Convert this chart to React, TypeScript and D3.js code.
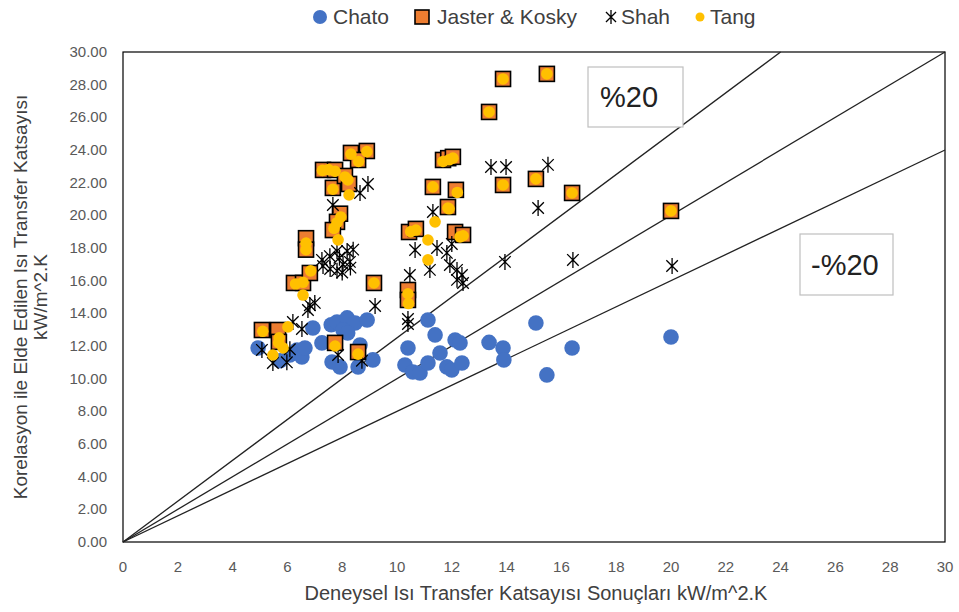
import * as d3 from "d3";

const chato: [number, number][] = [
  [4.93, 11.88], [5.73, 11.1], [6.09, 11.45], [6.35, 11.75], [6.53, 11.33], [6.64, 11.88],
  [6.93, 13.1], [7.26, 12.19], [7.6, 13.3], [7.63, 11.02], [7.92, 10.72], [7.81, 13.47],
  [8.18, 13.72], [8.47, 13.41], [8.03, 12.98], [8.2, 12.8], [8.91, 13.59], [8.65, 12.06],
  [8.58, 10.72], [9.12, 11.15],
  [10.4, 11.88], [10.29, 10.84], [10.58, 10.41], [10.84, 10.35], [11.13, 10.96],
  [11.57, 11.57], [11.82, 10.72], [12.0, 10.53], [12.37, 10.96], [11.13, 13.59],
  [11.39, 12.68], [12.12, 12.37], [12.3, 12.19], [13.36, 12.22],
  [13.87, 11.88], [13.9, 11.15], [15.07, 13.41], [16.39, 11.88], [15.47, 10.23], [20.0, 12.55],
];

const jasterKosky: [number, number][] = [
  [5.07, 12.98], [5.66, 12.98], [5.69, 12.25], [6.24, 15.86], [6.57, 15.86], [6.82, 16.47],
  [6.68, 18.6], [6.68, 17.9], [7.3, 22.78], [7.74, 22.78], [7.66, 21.68], [8.32, 23.82],
  [8.9, 23.94], [8.58, 23.39], [8.1, 22.41], [8.25, 21.92], [7.92, 20.1], [7.81, 19.6],
  [7.66, 19.1], [7.74, 12.19], [8.58, 11.63], [9.16, 15.86],
  [11.68, 23.39], [11.87, 23.5], [12.04, 23.58], [11.31, 21.74], [12.15, 21.56],
  [11.86, 20.51], [10.44, 18.98], [10.69, 19.17], [12.12, 18.98], [12.41, 18.8],
  [10.4, 15.43], [10.4, 14.82],
  [13.87, 28.35], [15.47, 28.66], [13.36, 26.33], [13.87, 21.86], [15.07, 22.23],
  [16.39, 21.37], [20.0, 20.27],
];

const shah: [number, number][] = [
  [5.07, 11.76], [5.47, 10.96], [5.98, 11.0], [6.09, 11.8], [6.2, 13.47], [6.53, 13.04],
  [6.75, 14.2], [6.82, 14.5], [7.0, 14.64], [9.2, 14.45], [7.3, 16.9], [7.56, 16.72],
  [7.81, 16.6], [8.03, 17.0], [8.28, 17.15], [8.72, 11.1], [7.85, 11.45], [7.66, 20.63],
  [8.65, 21.37], [8.94, 21.92], [7.26, 17.27], [7.81, 17.82], [8.18, 17.82], [8.4, 17.9],
  [7.55, 17.5], [8.0, 16.5], [8.3, 16.8], [7.9, 17.4],
  [13.43, 22.96], [13.98, 22.96], [15.51, 23.09], [15.15, 20.45], [13.94, 17.15],
  [16.42, 17.27], [20.04, 16.9],
  [11.31, 20.2], [10.66, 17.88], [11.46, 18.0], [11.82, 17.7], [12.0, 18.25], [11.2, 16.66],
  [11.93, 16.96], [12.19, 16.66], [12.37, 16.35], [10.47, 16.35], [12.19, 16.05],
  [12.41, 15.86], [10.4, 13.65], [10.4, 13.35],
];

const tang: [number, number][] = [
  [5.1, 12.9], [5.47, 11.45], [5.84, 11.88], [6.02, 13.17], [5.7, 12.5], [6.3, 15.8],
  [6.57, 15.12], [6.85, 16.6], [7.74, 12.0], [8.58, 11.5], [7.85, 18.5], [7.95, 19.9],
  [7.7, 19.2], [8.25, 21.25], [8.21, 22.17], [8.6, 23.3], [8.9, 23.9], [7.5, 22.8],
  [10.4, 15.2], [10.42, 14.6], [10.5, 19.0], [11.13, 18.49], [11.13, 17.27], [11.39, 19.6],
  [12.2, 21.4], [12.3, 18.68], [11.9, 20.4], [11.9, 23.4], [13.87, 28.35], [15.47, 28.66],
  [13.36, 26.33], [13.87, 21.86], [15.07, 22.23], [16.39, 21.37], [20.0, 20.27],
  [9.16, 15.86], [6.68, 18.3], [11.31, 21.74],
  [5.68, 12.2], [6.57, 15.9], [6.68, 17.9], [7.28, 22.75], [7.74, 22.7], [7.66, 21.6],
  [8.32, 23.75], [8.1, 22.35], [7.81, 19.55], [11.68, 23.3], [12.04, 23.5], [10.69, 19.1],
  [12.41, 18.75], [11.86, 20.45],
];

// reference lines y = k * x
const slopes = [1.25, 1, 0.8];
const xTicks = d3.range(0, 31, 2);
const yTicks = d3.range(0, 31, 2);

const font = "'Liberation Sans', Arial, sans-serif";
const blue = "#4472C4";
const orange = "#ED7D31";
const gold = "#FFC000";

function star(r: number) {
  const d = r * 0.72;
  return `M0,${-r}L0,${r}M${-d},${-d}L${d},${d}M${-d},${d}L${d},${-d}`;
}

export default function App() {
  const left = 123, right = 945, top = 52, bottom = 542;
  const x = d3.scaleLinear().domain([0, 30]).range([left, right]);
  const y = d3.scaleLinear().domain([0, 30]).range([bottom, top]);

  const clip = (k: number) => {
    const xEnd = Math.min(30, 30 / k);
    return { x1: x(0), y1: y(0), x2: x(xEnd), y2: y(k * xEnd) };
  };

  return (
    <svg width={959} height={612} style={{ position: "absolute", left: 0, top: 0, background: "#fff" }}
      fontFamily={font}>
      <rect x={0} y={0} width={959} height={612} fill="#fff" />

      {/* legend */}
      <g fontSize={21} fill="#404040">
        <circle cx={320} cy={17} r={7} fill={blue} />
        <text x={333} y={24}>Chato</text>
        <rect x={415} y={10} width={14} height={14} fill={orange} stroke="#000" strokeWidth={1.6} />
        <text x={437} y={24}>Jaster &amp; Kosky</text>
        <path d={star(7)} transform="translate(611,17)" stroke="#000" strokeWidth={1.3} fill="none" />
        <text x={621} y={24}>Shah</text>
        <circle cx={700} cy={17} r={4.5} fill={gold} />
        <text x={710} y={24}>Tang</text>
      </g>

      {/* plot frame */}
      <rect x={left} y={top} width={right - left} height={bottom - top} fill="none" stroke="#000" strokeWidth={1.2} />

      {/* reference lines */}
      {slopes.map((k) => {
        const l = clip(k);
        return <line key={k} {...l} stroke="#222" strokeWidth={1.3} />;
      })}

      {/* y ticks */}
      <g fontSize={15} fill="#595959" textAnchor="end">
        {yTicks.map((t) => (
          <text key={t} x={107} y={y(t) + 5}>{t.toFixed(2)}</text>
        ))}
      </g>
      {/* x ticks */}
      <g fontSize={15} fill="#595959" textAnchor="middle">
        {xTicks.map((t) => (
          <text key={t} x={x(t)} y={572}>{t}</text>
        ))}
      </g>

      {/* axis titles */}
      <g fill="#404040" textAnchor="middle">
        <text x={536} y={600} fontSize={20}>Deneysel Isı Transfer Katsayısı Sonuçları kW/m^2.K</text>
        <text fontSize={19} transform={`translate(27,${(top + bottom) / 2}) rotate(-90)`}>
          Korelasyon ile Elde Edilen Isı Transfer Katsayısı
        </text>
        <text fontSize={19} transform={`translate(47,${(top + bottom) / 2}) rotate(-90)`}>kW/m^2.K</text>
      </g>

      {/* series */}
      <g>
        {chato.map((d, i) => (
          <circle key={i} cx={x(d[0])} cy={y(d[1])} r={7.8} fill={blue} />
        ))}
      </g>
      <g>
        {jasterKosky.map((d, i) => (
          <rect key={i} x={x(d[0]) - 7.5} y={y(d[1]) - 7.5} width={15} height={15}
            fill={orange} stroke="#000" strokeWidth={1.6} />
        ))}
      </g>
      <g stroke="#000" strokeWidth={1.3} fill="none">
        {shah.map((d, i) => (
          <path key={i} d={star(8)} transform={`translate(${x(d[0])},${y(d[1])})`} />
        ))}
      </g>
      <g>
        {tang.map((d, i) => (
          <circle key={i} cx={x(d[0])} cy={y(d[1])} r={5.8} fill={gold} />
        ))}
      </g>

      {/* annotation boxes */}
      <rect x={588} y={67} width={95} height={60} fill="#fff" stroke="#bfbfbf" strokeWidth={1.2} />
      <text x={600} y={107} fontSize={29} fill="#222">%20</text>
      <rect x={800} y={234} width={93} height={61} fill="#fff" stroke="#bfbfbf" strokeWidth={1.2} />
      <text x={811} y={275} fontSize={29} fill="#222">-%20</text>
    </svg>
  );
}
